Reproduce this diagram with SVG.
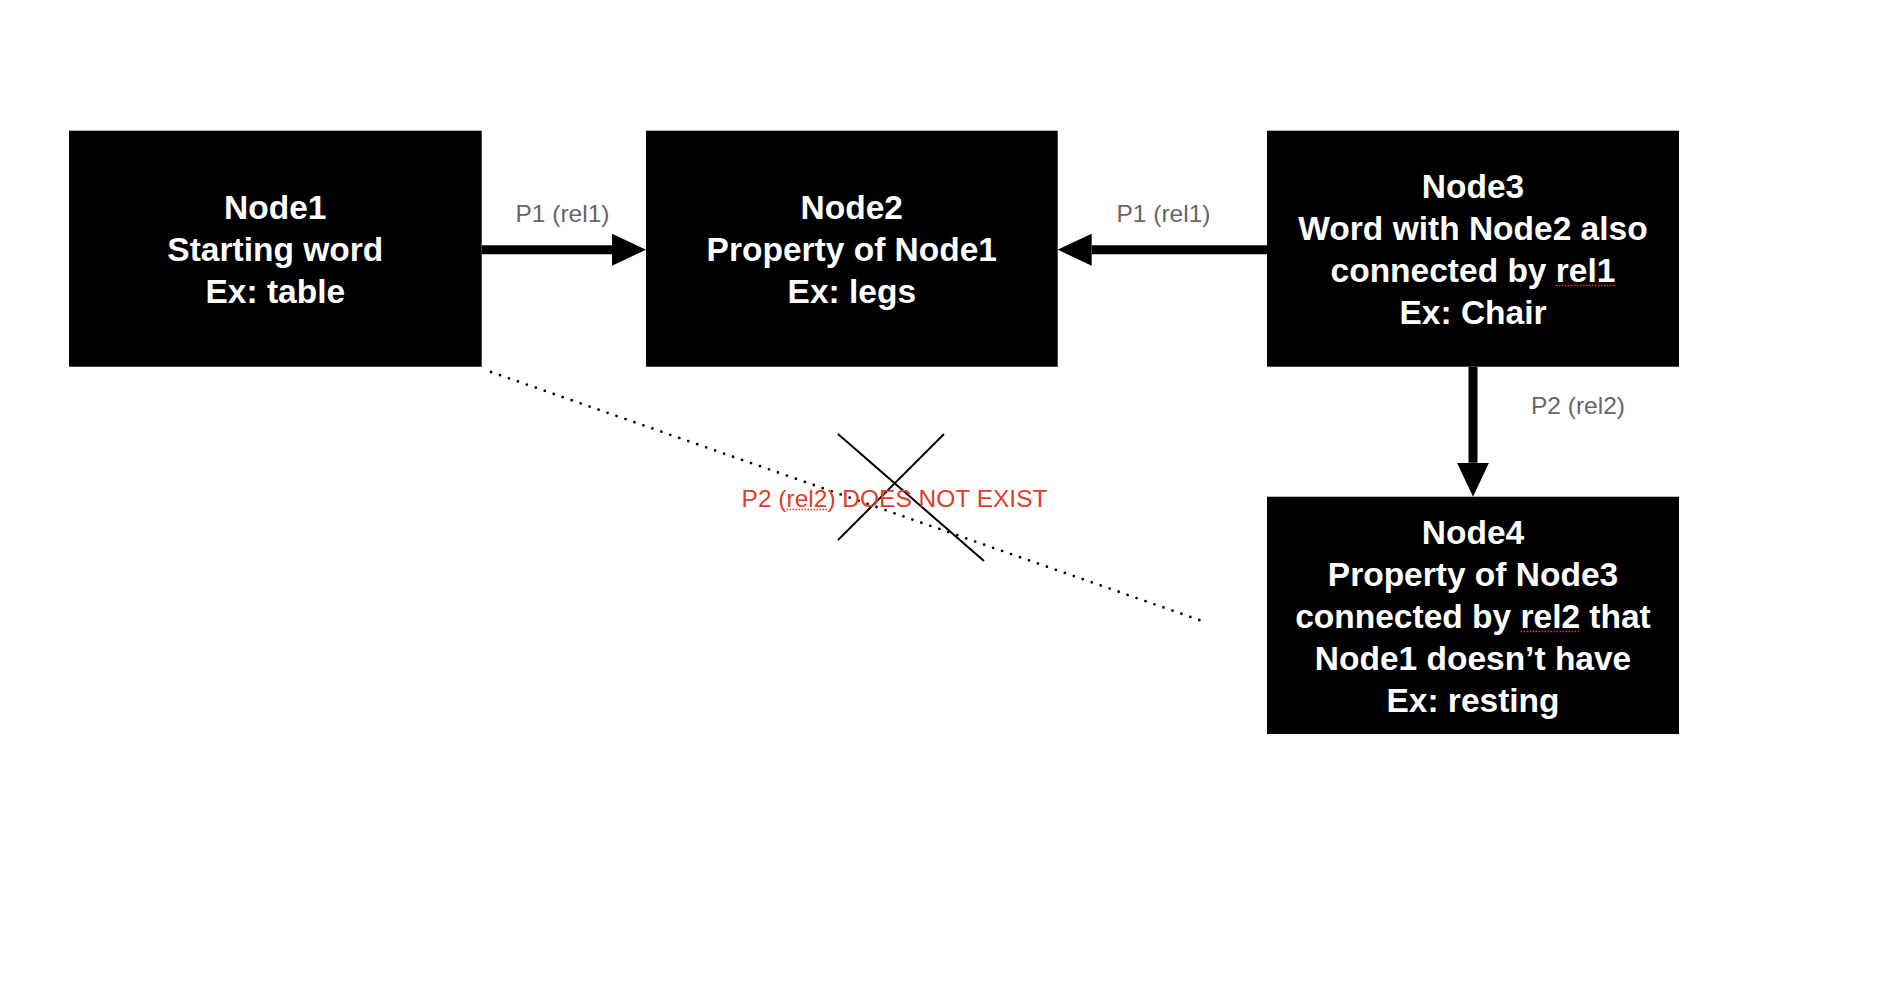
<svg xmlns="http://www.w3.org/2000/svg" width="1884" height="986" viewBox="0 0 1884 986">
<defs>
<style>
.box{fill:#000000;}
.nt{font-family:"Liberation Sans",Helvetica,Arial,sans-serif;font-size:33.5px;font-weight:bold;fill:#ffffff;text-anchor:middle;}
.lbl{font-family:"Liberation Sans",Helvetica,Arial,sans-serif;font-size:24.5px;fill:#666666;text-anchor:middle;}
.red{font-family:"Liberation Sans",Helvetica,Arial,sans-serif;font-size:24.5px;fill:#E03C2B;text-anchor:start;}
.edge{stroke:#000000;stroke-width:9;fill:none;}
.spell{stroke:#E03C2B;stroke-width:1.5;stroke-dasharray:1.5 1.5;fill:none;}
</style>
<marker id="ah" viewBox="0 0 34 32" refX="0" refY="16" markerWidth="34" markerHeight="32" markerUnits="userSpaceOnUse" orient="auto">
<path d="M0,0 L34,16 L0,32 Z" fill="#000000"/>
</marker>
</defs>
<rect width="1884" height="986" fill="#ffffff"/>
<g id="connectors">
<path class="edge" d="M481.7,249.7 L612,249.7" marker-end="url(#ah)"/>
<path class="edge" d="M1267,249.7 L1091.7,249.7" marker-end="url(#ah)"/>
<path class="edge" d="M1473,366.7 L1473,462.7" marker-end="url(#ah)"/>
<path d="M491,372 L1205,622" stroke="#000000" stroke-width="2.8" stroke-linecap="round" stroke-dasharray="0 9.5" fill="none"/>
<text class="lbl" x="562.5" y="222">P1 (rel1)</text>
<text class="lbl" x="1163.5" y="222">P1 (rel1)</text>
<text class="lbl" x="1578" y="413.5">P2 (rel2)</text>
</g>
<g id="not-exist">
<line x1="838" y1="434" x2="984" y2="561" stroke="#000000" stroke-width="2"/>
<line x1="944" y1="434" x2="838" y2="540" stroke="#000000" stroke-width="2"/>
<text class="red" x="741.6" y="506.5">P2 (rel2) DOES NOT EXIST</text>
<line class="spell" x1="786.5" y1="509.5" x2="827" y2="509.5"/>
</g>
<g id="node1">
<rect class="box" x="69" y="130.7" width="412.7" height="236"/>
<text class="nt" x="275.3" y="219">Node1</text>
<text class="nt" x="275.3" y="261">Starting word</text>
<text class="nt" x="275.3" y="303">Ex: table</text>
</g>
<g id="node2">
<rect class="box" x="646" y="130.7" width="411.7" height="236"/>
<text class="nt" x="851.8" y="219">Node2</text>
<text class="nt" x="851.8" y="261">Property of Node1</text>
<text class="nt" x="851.8" y="303">Ex: legs</text>
</g>
<g id="node3">
<rect class="box" x="1267" y="130.7" width="412" height="236"/>
<text class="nt" x="1473" y="198">Node3</text>
<text class="nt" x="1473" y="240">Word with Node2 also</text>
<text class="nt" x="1473" y="282">connected by rel1</text>
<text class="nt" x="1473" y="324">Ex: Chair</text>
<line class="spell" x1="1556" y1="285.5" x2="1615" y2="285.5"/>
</g>
<g id="node4">
<rect class="box" x="1267" y="496.7" width="412" height="237.3"/>
<text class="nt" x="1473" y="544">Node4</text>
<text class="nt" x="1473" y="586">Property of Node3</text>
<text class="nt" x="1473" y="628">connected by rel2 that</text>
<text class="nt" x="1473" y="670">Node1 doesn’t have</text>
<text class="nt" x="1473" y="712">Ex: resting</text>
<line class="spell" x1="1520.5" y1="631.5" x2="1580" y2="631.5"/>
</g>
</svg>
